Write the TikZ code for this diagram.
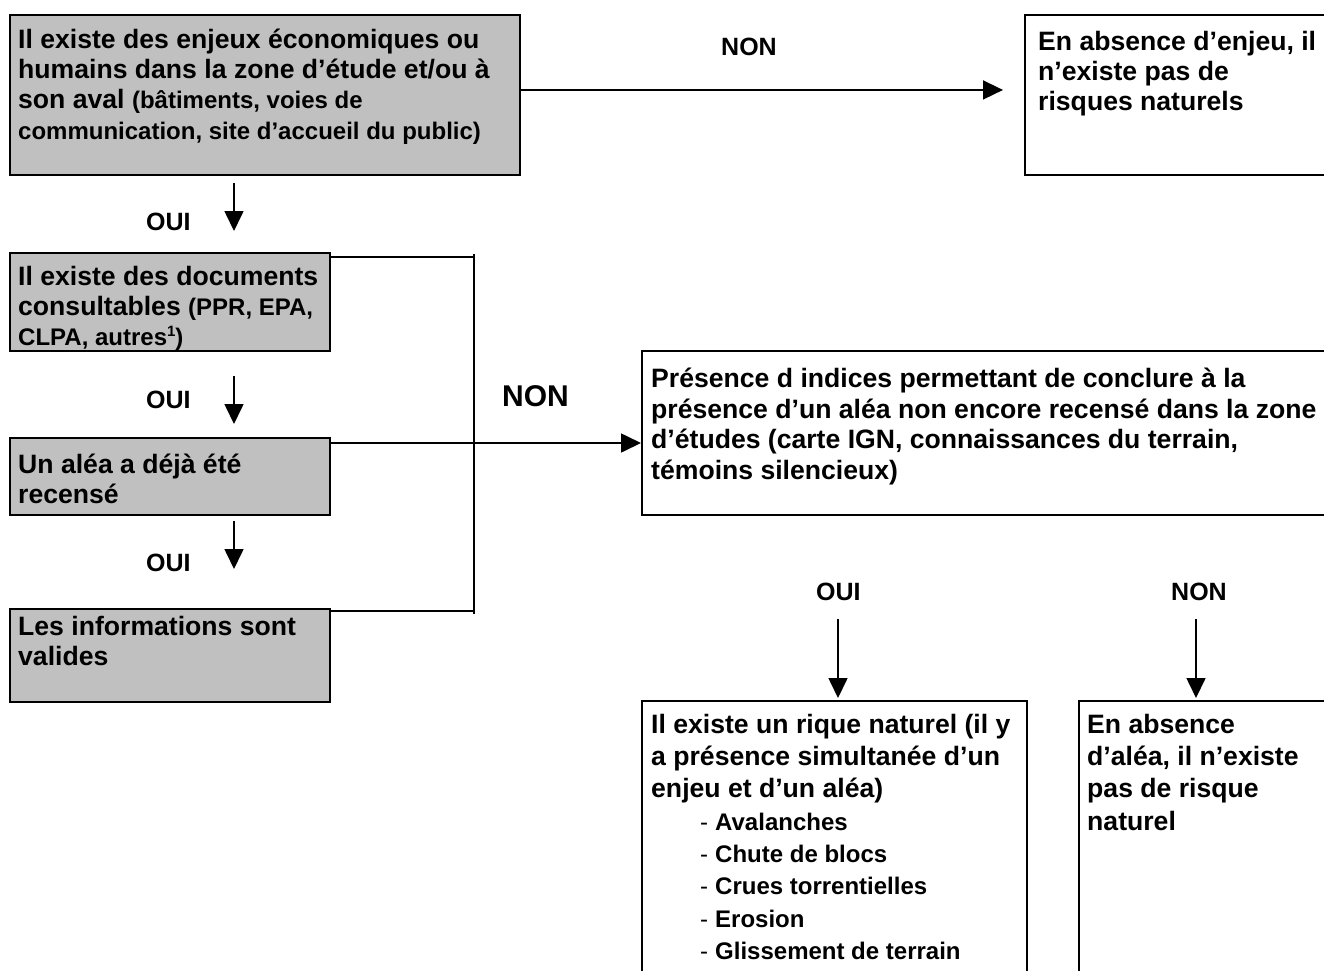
\documentclass[tikz,border=0pt]{standalone}
\usepackage{fontspec}
\setmainfont{Liberation Sans}
\usetikzlibrary{arrows.meta,calc}
\definecolor{boxgray}{RGB}{192,192,192}
\newcommand\fbig{\fontsize{26.6pt}{30.3pt}\selectfont}
\newcommand\fsmall{\fontsize{24pt}{30.3pt}\selectfont}
\newcommand\fbigF{\fontsize{26.6pt}{30.8pt}\selectfont}
\newcommand\fbigG{\fontsize{26.6pt}{32.3pt}\selectfont}
\newcommand\fsmallG{\fontsize{24pt}{32.3pt}\selectfont}
\newcommand\flab{\fontsize{25pt}{30pt}\selectfont}
\newcommand\flabbig{\fontsize{30pt}{34pt}\selectfont}
\newcommand\tp{\rule{0pt}{20pt}}
\newcommand\itm[1]{\hspace*{49pt}\makebox[15pt][l]{\mdseries -}#1}
\newcommand\supone{\raisebox{9pt}{\fontsize{15pt}{15pt}\selectfont 1}}
\begin{document}
\begin{tikzpicture}[x=1pt,y=-1pt,
  box/.style={draw=black, line width=2.4pt, rectangle, inner sep=0pt, anchor=north west},
  gbox/.style={box, fill=boxgray},
  txt/.style={anchor=north west, inner sep=0pt, align=left, font=\bfseries\fbig},
  lab/.style={inner sep=0pt, anchor=base west, font=\bfseries\flab},
  arr/.style={line width=1.6pt, -{Triangle[length=20pt,width=19pt]}},
  con/.style={line width=1.6pt}]
\useasboundingbox (0,0) rectangle (1324,970);
\clip (0,0) rectangle (1324,970);

% boxes
\node[gbox, minimum width=510.5pt, minimum height=160.5pt] (A) at (8.5,13.5) {};
\node[box, minimum width=320pt, minimum height=160.5pt] (B) at (1024,13.5) {};
\node[gbox, minimum width=320pt, minimum height=98pt] (C) at (8.5,252) {};
\node[gbox, minimum width=320pt, minimum height=77pt] (D) at (8.5,437) {};
\node[gbox, minimum width=320pt, minimum height=93pt] (E) at (8.5,608) {};
\node[box, minimum width=700pt, minimum height=164pt] (F) at (641,350) {};
\node[box, minimum width=385pt, minimum height=290pt] (G) at (641,700) {};
\node[box, minimum width=270pt, minimum height=290pt] (H) at (1078,700) {};

% texts
\node[txt] (tA) at (18,28) {\tp Il existe des enjeux économiques ou\\
  humains dans la zone d’étude et/ou à\\
  son aval {\fsmall(bâtiments, voies de}\\
  {\fsmall communication, site d’accueil du public)}};
\node[txt] (tB) at (1038,30) {\tp En absence d’enjeu, il\\ n’existe pas de\\ risques naturels};
\node[txt] (tC) at (18,265) {\tp Il existe des documents\\
  consultables {\fsmall (PPR, EPA,}\\
  {\fsmall CLPA, autres\supone)}};
\node[txt] (tD) at (18,453) {\tp Un aléa a déjà été\\ recensé};
\node[txt] (tE) at (18,615) {\tp Les informations sont\\ valides};
\node[txt, font=\bfseries\fbigF] (tF) at (651,367) {\tp Présence d indices permettant de conclure à la\\
  présence d’un aléa non encore recensé dans la zone\\
  d’études (carte IGN, connaissances du terrain,\\
  témoins silencieux)};
\node[txt, font=\bfseries\fbigG] (tG) at (651,713) {\tp Il existe un rique naturel (il y\\
  a présence simultanée d’un\\
  enjeu et d’un aléa)\\
  {\fsmallG\itm{Avalanches}}\\
  {\fsmallG\itm{Chute de blocs}}\\
  {\fsmallG\itm{Crues torrentielles}}\\
  {\fsmallG\itm{Erosion}}\\
  {\fsmallG\itm{Glissement de terrain}}};
\node[txt, font=\bfseries\fbigG] (tH) at (1087,713) {\tp En absence\\ d’aléa, il n’existe\\ pas de risque\\ naturel};

% labels
\node[lab] (l1) at (721,55) {NON};
\node[lab] (l2) at (146,230) {OUI};
\node[lab] (l3) at (146,408) {OUI};
\node[lab] (l4) at (146,571) {OUI};
\node[lab, font=\bfseries\flabbig] (l5) at (502,406) {NON};
\node[lab] (l6) at (816,600) {OUI};
\node[lab] (l7) at (1171,600) {NON};

% helper coordinates
\coordinate (ax) at (234,0);
\coordinate (bx) at (474,0);
\coordinate (my) at (0,443);
\coordinate (gx) at (838,0);
\coordinate (hx) at (1196,0);

% connectors
\draw[arr, shorten >=21pt] ([yshift=5pt]A.east) -- ([yshift=5pt]B.west);
\draw[arr, shorten <=7pt, shorten >=21pt] (A.south -| ax) -- (C.north -| ax);
\draw[arr, shorten <=24pt, shorten >=13pt] (C.south -| ax) -- (D.north -| ax);
\draw[arr, shorten <=5pt, shorten >=39pt] (D.south -| ax) -- (E.north -| ax);
\draw[con] ([yshift=-5pt]C.north east) -- ([yshift=-5pt]C.north east -| bx);
\draw[con] ([yshift=-2pt]C.north -| bx) -- ([yshift=-6pt]E.north -| bx);
\draw[con] ([yshift=-3pt]E.north east) -- ([yshift=-3pt]E.north east -| bx);
\draw[arr] (D.east |- my) -- (F.west |- my);
\draw[arr, shorten <=103pt, shorten >=2pt] (F.south -| gx) -- (G.north -| gx);
\draw[arr, shorten <=103pt, shorten >=2pt] (F.south -| hx) -- (H.north -| hx);
\end{tikzpicture}
\end{document}
